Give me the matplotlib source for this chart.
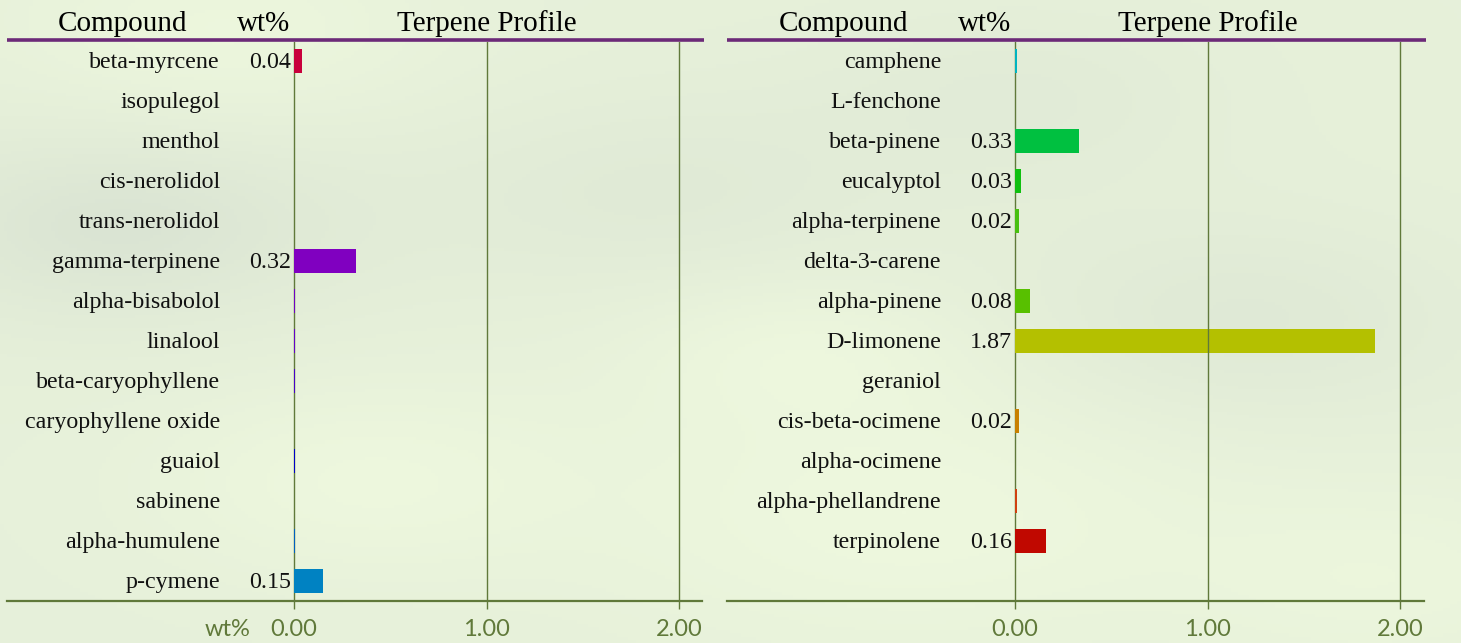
import numpy as np
import matplotlib
matplotlib.use("Agg")
import matplotlib.pyplot as plt
import matplotlib.transforms as mtransforms

# data
left_names = ['beta-myrcene', 'isopulegol', 'menthol', 'cis-nerolidol', 'trans-nerolidol',
              'gamma-terpinene', 'alpha-bisabolol', 'linalool', 'beta-caryophyllene',
              'caryophyllene oxide', 'guaiol', 'sabinene', 'alpha-humulene', 'p-cymene']
left_vals = [0.04, 0.0, 0.0, 0.0, 0.0, 0.32, 0.005, 0.005, 0.005, 0.0, 0.005, 0.0, 0.005, 0.15]
left_labels = ['0.04', '', '', '', '', '0.32', '', '', '', '', '', '', '', '0.15']
left_colors = ['#c8003c', '#b0009c', '#a000b0', '#9400b8', '#8a00bc', '#8000c0', '#7000c4',
               '#6400c8', '#4800c8', '#2c00c8', '#0000c8', '#0030c4', '#0060c0', '#0082c2']

right_names = ['camphene', 'L-fenchone', 'beta-pinene', 'eucalyptol', 'alpha-terpinene',
               'delta-3-carene', 'alpha-pinene', 'D-limonene', 'geraniol', 'cis-beta-ocimene',
               'alpha-ocimene', 'alpha-phellandrene', 'terpinolene']
right_vals = [0.008, 0.0, 0.33, 0.03, 0.02, 0.0, 0.08, 1.87, 0.0, 0.02, 0.0, 0.008, 0.16]
right_labels = ['', '', '0.33', '0.03', '0.02', '', '0.08', '1.87', '', '0.02', '', '', '0.16']
right_colors = ['#00b4c0', '#00bc80', '#00c040', '#10c010', '#48c010', '#50c008', '#58c000',
                '#b4c000', '#c8a000', '#c88000', '#cc6000', '#d04010', '#c00800']

ticks = [0, 1, 2]
tick_labels = ['0.00', '1.00', '2.00']

W, H = 1461, 643
GREEN = '#60793a'
PURPLE = '#6c2a78'
SERIF = 'Liberation Serif'

fig = plt.figure(figsize=(W / 100, H / 100), dpi=100)

# soft blurred green background
bg = fig.add_axes([0, 0, 1, 1], zorder=-10)
yy, xx = np.mgrid[0:1:200j, 0:1:400j]
field = np.zeros_like(xx)
for cx, cy, s, a in [(0.08, 0.35, 0.12, -1.0), (0.25, 0.75, 0.10, 0.8), (0.45, 0.3, 0.12, -0.6),
                     (0.62, 0.8, 0.14, 0.9), (0.7, 0.15, 0.1, -0.5), (0.85, 0.5, 0.12, -0.7),
                     (0.95, 0.9, 0.1, 0.6), (0.55, 0.55, 0.08, 0.7), (0.15, 0.05, 0.1, 0.7)]:
    field += a * np.exp(-((xx - cx) ** 2 + (yy - cy) ** 2) / (2 * s ** 2))
light = np.array([238, 248, 222]) / 255
dark = np.array([218, 228, 211]) / 255
t = (field - field.min()) / (field.max() - field.min())
t = t ** 0.7
img = dark[None, None, :] * (1 - t[..., None]) + light[None, None, :] * t[..., None]
bg.imshow(img, aspect='auto', extent=[0, 1, 0, 1])
bg.axis('off')

unit = 192.5
row0, step = 61, 40


def panel(x0, x1, zero_px, names, vals, labels, colors, show_wt):
    ax = fig.add_axes([x0 / W, (H - 601) / H, (x1 - x0) / W, (601 - 42) / H])
    ax.patch.set_alpha(0)
    ax.set_xlim((x0 - zero_px) / unit, (x1 - zero_px) / unit)
    ax.set_ylim((601 - row0) / step, (42 - row0) / step)
    y = np.arange(len(names))
    ax.barh(y, vals, height=0.6, color=colors, zorder=3)
    for xv in ticks:
        ax.axvline(xv, color=GREEN, lw=1.0, zorder=2 if xv == 0 else 4)
    for i in range(len(names)):
        ax.text(-0.384, i + 0.04, names[i], ha='right', va='center', fontsize=17.3,
                family=SERIF, color='#111111')
        if labels[i]:
            ax.text(-0.016, i + 0.04, labels[i], ha='right', va='center', fontsize=17.3,
                    family=SERIF, color='#111111')
    hy = (24 - row0) / step
    ax.text(-0.89, hy, 'Compound', ha='center', va='center', fontsize=21, family=SERIF)
    ax.text(-0.16, hy, 'wt%', ha='center', va='center', fontsize=21, family=SERIF)
    ax.text(1.0, hy, 'Terpene Profile', ha='center', va='center', fontsize=21, family=SERIF)
    ly = (40 - row0) / step
    xl = ax.get_xlim()
    ax.plot([xl[0], xl[1] + 0.01], [ly, ly], color=PURPLE,
            lw=2.6, clip_on=False, solid_capstyle='butt')
    for s in ['top', 'left', 'right']:
        ax.spines[s].set_visible(False)
    ax.spines['bottom'].set_color(GREEN)
    ax.spines['bottom'].set_linewidth(1.6)
    ax.set_yticks([])
    ax.set_xticks(ticks)
    ax.set_xticklabels(tick_labels)
    ax.tick_params(axis='x', colors=GREEN, length=6, width=1, pad=7, labelsize=17)
    for lab in ax.get_xticklabels():
        lab.set_family('Lato')
    if show_wt:
        trans = mtransforms.blended_transform_factory(ax.transData, ax.transAxes)
        ax.text((228 - zero_px) / unit, -28 / 559, 'wt%', transform=trans, ha='center',
                va='center', fontsize=17, family='Lato', color=GREEN)
    return ax


panel(7, 702, 294, left_names, left_vals, left_labels, left_colors, True)
panel(727, 1424, 1015, right_names, right_vals, right_labels, right_colors, False)

fig.savefig('out.png', dpi=100)
